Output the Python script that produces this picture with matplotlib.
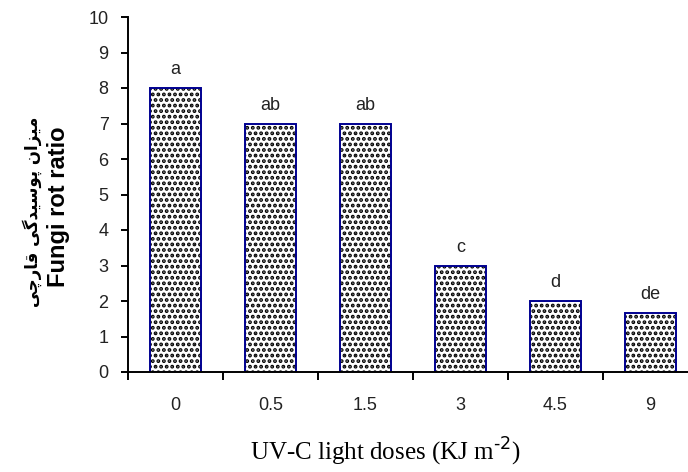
import matplotlib
matplotlib.use("Agg")
import matplotlib.pyplot as plt
import numpy as np

categories = ["0", "0.5", "1.5", "3", "4.5", "9"]
values = [8, 7, 7, 3, 2, 1.65]
letters = ["a", "ab", "ab", "c", "d", "de"]
yticks = list(range(0, 11))

# Persian label in visual order using Arabic presentation forms: "میزان پوسیدگی قارچی"
persian_label = ("\uFEF0\uFB7C\uFEAD\uFE8E\uFED7 "
                 "\uFEF0\uFB94\uFEAA\uFEF4\uFEB3\uFEEE\uFB58 "
                 "\uFEE5\uFE8D\uFEB0\uFEF4\uFEE3")

fig = plt.figure(figsize=(6.88, 4.72), dpi=100)
W, H = 688, 472
left, right, top, bottom = 128, 698, 17, 372
ax = fig.add_axes([left / W, 1 - bottom / H, (right - left) / W, (bottom - top) / H])

x = np.arange(len(categories))
plt.rcParams['hatch.linewidth'] = 1.9
ax.bar(x, values, width=0.54, color="white", edgecolor="black", hatch="...", linewidth=0)
ax.bar(x, values, width=0.54, color="none", edgecolor="#000090", linewidth=1.4)

ax.set_xlim(-0.5, len(categories) - 0.5)
ax.set_ylim(0, 10)

for xi, v, lab in zip(x, values, letters):
    ax.text(xi, v + 0.28, lab, ha="center", va="bottom", fontsize=13,
            family="Liberation Sans", color="#222222")

for s in ["top", "right"]:
    ax.spines[s].set_visible(False)
ax.spines["left"].set_linewidth(1.4)
ax.spines["bottom"].set_linewidth(1.4)

ax.set_yticks(yticks)
ax.set_yticklabels([str(t) for t in yticks], family="Liberation Sans", fontsize=13, color="#222222")
ax.tick_params(axis="y", direction="out", length=5, width=1.4, pad=9)

ax.set_xticks(x)
ax.set_xticklabels(categories, family="Liberation Sans", fontsize=13, color="#222222")
ax.tick_params(axis="x", which="major", length=0, pad=18)
ax.set_xticks(np.arange(len(categories) + 1) - 0.5, minor=True)
ax.tick_params(axis="x", which="minor", direction="out", length=6, width=1.4)

fig.text(32 / W, 1 - 212 / H, persian_label, rotation=90, ha="center", va="center",
         fontsize=12, fontweight="bold", family=["DejaVu Sans"])
fig.text(59 / W, 1 - 207 / H, "Fungi rot ratio", rotation=90, ha="center", va="center",
         fontsize=17, fontweight="bold", family="Liberation Sans")

fig.text(385 / W, 1 - 452 / H, r"UV-C light doses (KJ m$^{\text{-2}}$)", ha="center", va="center",
         fontsize=18, family="Liberation Serif")

fig.savefig("out.png", dpi=100)
